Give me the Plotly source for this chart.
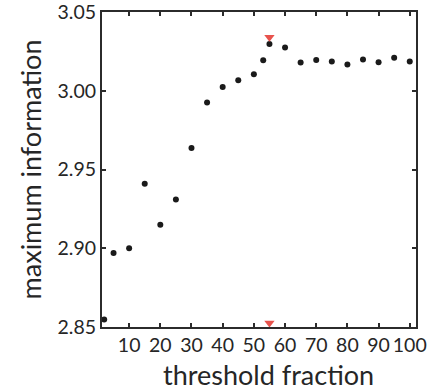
import plotly.graph_objects as go

# threshold fraction vs. maximum information
threshold = [2, 5, 10, 15, 20, 25, 30, 35, 40, 45, 50, 53, 55, 60, 65, 70, 75, 80, 85, 90, 95, 100]
max_info = [2.8547, 2.897, 2.900, 2.941, 2.915, 2.931, 2.9636, 2.9925, 3.0024, 3.0066, 3.0104,
            3.0193, 3.0297, 3.0274, 3.0179, 3.0195, 3.0185, 3.0166, 3.0198, 3.0181, 3.0210, 3.0185]

# optimum marker positions (above the peak and on the x axis)
opt_x = [55, 55]
opt_y = [3.034, 2.8525]

x_ticks = [10, 20, 30, 40, 50, 60, 70, 80, 90, 100]
y_ticks = [2.85, 2.90, 2.95, 3.00, 3.05]

axis_color = "#2b2b2b"
text_color = "#262626"
font_family = "Lato, 'Open Sans', sans-serif"

fig = go.Figure()
fig.add_trace(go.Scatter(
    x=threshold, y=max_info, mode="markers",
    marker=dict(color="#1a1a1a", size=6),
    cliponaxis=False, showlegend=False,
))
fig.add_trace(go.Scatter(
    x=opt_x, y=opt_y, mode="markers",
    marker=dict(color="#e8534d", size=9, symbol="triangle-down"),
    cliponaxis=False, showlegend=False,
))

axis_common = dict(
    showline=True, linecolor=axis_color, linewidth=2, mirror="ticks",
    ticks="inside", ticklen=4, tickwidth=1.5, tickcolor=axis_color,
    showgrid=False, zeroline=False, automargin=False,
    ticklabeloverflow="allow",
    tickfont=dict(family=font_family, size=19.5, color=text_color),
)

fig.update_layout(
    width=430, height=391,
    margin=dict(l=102, r=14, t=12, b=64),
    plot_bgcolor="white", paper_bgcolor="white",
    xaxis=dict(range=[1.3, 102], tickvals=x_ticks, tickangle=0, **axis_common),
    yaxis=dict(
        range=[2.85, 3.05], tickvals=y_ticks, tickformat=".2f",
        title=dict(text="maximum information", standoff=8,
                   font=dict(family=font_family, size=27, color=text_color)),
        **axis_common,
    ),
    annotations=[dict(
        text="threshold fraction", xref="paper", yref="paper",
        x=0.53, y=-0.152, xanchor="center", yanchor="middle", showarrow=False,
        font=dict(family=font_family, size=27, color=text_color),
    )],
)

fig.write_html("out.html")
